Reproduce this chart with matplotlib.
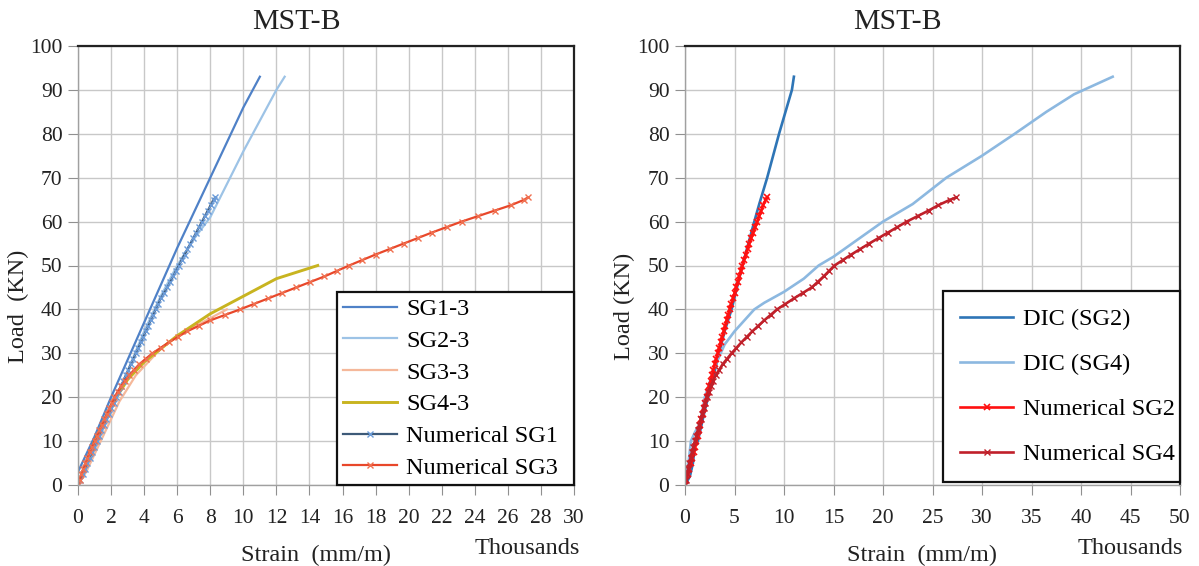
import matplotlib
matplotlib.use("Agg")
import matplotlib.pyplot as plt

plt.rcParams['font.family'] = ['Liberation Serif', 'DejaVu Serif']

# ---------------- Left panel data (strain in thousands, load in kN) ----------------
sg1_x = [0, 1.0, 2.0, 3.0, 4.0, 5.0, 6.0, 7.0, 8.0, 9.0, 10.0, 11.0]
sg1_y = [3, 11, 20, 28.5, 37, 45.5, 54, 62, 70, 78, 86, 93]

sg2_x = [0, 1.0, 2.0, 3.0, 4.0, 5.0, 6.0, 7.0, 8.0, 9.0, 10.0, 11.0, 12.0, 12.5]
sg2_y = [0, 8, 17, 26, 35, 43, 50, 56, 61, 68.5, 76, 83, 90, 93]

sg3_x = [0, 0.5, 1.0, 1.5, 2.0, 2.5, 3.0, 3.5, 4.0, 5.0, 6.0, 7.0, 8.0, 9.0]
sg3_y = [0, 3, 7, 11, 15, 19, 22, 25, 27, 31, 34, 36, 38, 40]

sg4_x = [0, 0.5, 1.0, 2.0, 3.0, 4.0, 5.0, 6.0, 8.0, 10.0, 12.0, 14.5]
sg4_y = [0, 5, 10, 18, 24, 28, 31, 34, 39, 43, 47, 50]

num_loads = [0, 1.25, 2.5, 3.75, 5, 6.25, 7.5, 8.75, 10, 11.25, 12.5, 13.75, 15, 16.25,
             17.5, 18.75, 20, 21.25, 22.5, 23.75, 25, 26.25, 27.5, 28.75, 30, 31.25,
             32.5, 33.75, 35, 36.25, 37.5, 38.75, 40, 41.25, 42.5, 43.75, 45, 46.25,
             47.5, 48.75, 50, 51.25, 52.5, 53.75, 55, 56.25, 57.5, 58.75, 60, 61.25,
             62.5, 63.75, 65, 65.5]

numsg1_x = [0, 0.14, 0.28, 0.42, 0.56, 0.7, 0.84, 0.98, 1.12, 1.26, 1.4, 1.55, 1.7, 1.85,
            2.0, 2.15, 2.3, 2.45, 2.6, 2.75, 2.9, 3.05, 3.2, 3.35, 3.5, 3.65,
            3.8, 3.95, 4.1, 4.25, 4.4, 4.55, 4.7, 4.85, 5.0, 5.2, 5.4, 5.57,
            5.75, 5.92, 6.1, 6.27, 6.45, 6.62, 6.8, 6.97, 7.15, 7.32, 7.5, 7.67,
            7.85, 8.02, 8.2, 8.3]

numsg3_x = [0, 0.1, 0.2, 0.32, 0.45, 0.57, 0.7, 0.85, 1.0, 1.15, 1.3, 1.45, 1.6, 1.75,
            1.9, 2.05, 2.2, 2.4, 2.6, 2.85, 3.1, 3.4, 3.7, 4.1, 4.5, 5.0,
            5.5, 6.05, 6.6, 7.3, 8.0, 8.9, 9.8, 10.65, 11.5, 12.35, 13.2, 14.05,
            14.9, 15.65, 16.4, 17.2, 18.0, 18.85, 19.7, 20.55, 21.4, 22.3, 23.2, 24.2,
            25.2, 26.2, 27.0, 27.2]

# ---------------- Right panel data ----------------
dic2_x = [0, 0.5, 0.8, 1.0, 1.3, 2.0, 3.0, 4.0, 4.7, 5.8, 7.0, 7.5, 8.3, 9.5, 10.8, 11.0]
dic2_y = [0, 2, 5, 9, 10, 17, 26, 35, 40, 50, 60, 64, 70, 80, 90, 93]

dic4_x = [0, 0.4, 0.6, 1.0, 1.5, 2.0, 3.0, 4.0, 5.0, 6.0, 7.0, 8.0, 10.0, 12.0, 13.5,
          15.0, 17.5, 20.0, 23.0, 26.4, 30.0, 33.3, 36.5, 39.3, 43.2]
dic4_y = [0, 6, 10, 12, 14, 20, 27, 32, 35, 37.5, 40, 41.5, 44, 47, 50,
          52, 56, 60, 64, 70, 75, 80, 85, 89, 93]

numsg2_x = [0, 0.15, 0.3, 0.45, 0.6, 0.75, 0.9, 1.02, 1.15, 1.27, 1.4, 1.52, 1.65, 1.77,
            1.9, 2.05, 2.2, 2.32, 2.45, 2.6, 2.75, 2.87, 3.0, 3.15, 3.3, 3.45,
            3.6, 3.75, 3.9, 4.05, 4.2, 4.35, 4.5, 4.67, 4.85, 5.0, 5.15, 5.32,
            5.5, 5.65, 5.8, 5.97, 6.15, 6.32, 6.5, 6.7, 6.9, 7.1, 7.3, 7.5,
            7.7, 7.9, 8.15, 8.3]

numsg4_x = [0, 0.1, 0.2, 0.32, 0.45, 0.57, 0.7, 0.85, 1.0, 1.15, 1.3, 1.45, 1.6, 1.75,
            1.9, 2.05, 2.2, 2.4, 2.6, 2.85, 3.1, 3.45, 3.8, 4.25, 4.7, 5.2,
            5.7, 6.25, 6.8, 7.4, 8.0, 8.65, 9.3, 10.15, 11.0, 11.9, 12.8, 13.4,
            14.0, 14.55, 15.1, 15.95, 16.8, 17.7, 18.6, 19.55, 20.5, 21.45, 22.4, 23.5,
            24.6, 25.6, 26.8, 27.4]

left_xticks = list(range(0, 31, 2))
right_xticks = list(range(0, 51, 5))
yticks = list(range(0, 101, 10))

W, H = 1199, 566
fig = plt.figure(figsize=(W / 100, H / 100), dpi=100)

def make_axes(x0, x1, y0, y1):
    return fig.add_axes([x0 / W, 1 - y1 / H, (x1 - x0) / W, (y1 - y0) / H])

axL = make_axes(78, 574, 46, 485)
axR = make_axes(685, 1180, 46, 485)

def style(ax, xmax, xticks):
    ax.set_xlim(0, xmax)
    ax.set_ylim(0, 100)
    ax.set_xticks(xticks)
    ax.set_yticks(yticks)
    ax.grid(True, color='#c8c8c8', lw=1.0)
    ax.set_axisbelow(True)
    for s in ['left', 'bottom']:
        ax.spines[s].set_color('#a0a0a0')
        ax.spines[s].set_linewidth(1.0)
    for s in ['top', 'right']:
        ax.spines[s].set_color('#222222')
        ax.spines[s].set_linewidth(1.6)
    ax.tick_params(axis='both', direction='out', length=7.2, color='#909090',
                   labelsize=15.5, labelcolor='#222222')
    ax.tick_params(axis='x', pad=10)
    ax.tick_params(axis='y', pad=4)

style(axL, 30, left_xticks)
style(axR, 50, right_xticks)

lw = 1.6
axL.plot(sg1_x, sg1_y, color='#4f81c7', lw=lw, label='SG1-3')
axL.plot(sg2_x, sg2_y, color='#9dc3e6', lw=lw, label='SG2-3')
axL.plot(sg3_x, sg3_y, color='#f5b89a', lw=lw, label='SG3-3')
axL.plot(sg4_x, sg4_y, color='#c8b420', lw=lw + 0.5, label='SG4-3')
axL.plot(numsg1_x, num_loads, color='#3d5a78', lw=lw, marker='x', ms=4.5,
         mec='#6b9bd8', mew=1.0, label='Numerical SG1')
axL.plot(numsg3_x, num_loads, color='#e8472a', lw=lw, marker='x', ms=4.5,
         mec='#f07050', mew=1.0, label='Numerical SG3')

axR.plot(dic2_x, dic2_y, color='#2e75b6', lw=lw + 0.3, label='DIC (SG2)')
axR.plot(dic4_x, dic4_y, color='#8cb8e0', lw=lw + 0.3, label='DIC (SG4)')
axR.plot(numsg2_x, num_loads, color='#ff1010', lw=lw + 0.3, marker='x', ms=5,
         mew=1.2, label='Numerical SG2')
axR.plot(numsg4_x, num_loads, color='#c0202a', lw=lw + 0.3, marker='x', ms=4.5,
         mew=1.0, label='Numerical SG4')

def add_legend(ax, x0, x1, y0, y1, spacing, bpad):
    bb = (x0 / W, 1 - y1 / H, (x1 - x0) / W, (y1 - y0) / H)
    leg = ax.legend(loc='upper left', bbox_to_anchor=bb, bbox_transform=fig.transFigure,
                    mode='expand', frameon=True, fancybox=False, fontsize=17.5,
                    handlelength=2.2, labelspacing=spacing, borderpad=bpad,
                    handletextpad=0.4, borderaxespad=0)
    leg.get_frame().set_edgecolor('#111111')
    leg.get_frame().set_linewidth(1.6)
    leg.get_frame().set_alpha(1)
    return leg

add_legend(axL, 337, 574, 292, 485, 0.4, 0.25)
add_legend(axR, 943, 1180, 291, 486, 0.95, 0.7)

def ftext(x, y, s, **kw):
    fig.text(x / W, 1 - y / H, s, **kw)

ftext(296, 22, 'MST-B', ha='center', va='center', fontsize=21.5, color='#222222')
ftext(897, 22, 'MST-B', ha='center', va='center', fontsize=21.5, color='#222222')
ftext(316, 555, 'Strain  (mm/m)', ha='center', va='center', fontsize=17.5, color='#222222')
ftext(922, 555, 'Strain  (mm/m)', ha='center', va='center', fontsize=17.5, color='#222222')
ftext(527, 548, 'Thousands', ha='center', va='center', fontsize=17.5, color='#222222')
ftext(1130, 548, 'Thousands', ha='center', va='center', fontsize=17.5, color='#222222')
ftext(18, 306, 'Load  (KN)', ha='center', va='center', rotation=90, fontsize=17.5, color='#222222')
ftext(624, 306, 'Load (KN)', ha='center', va='center', rotation=90, fontsize=17.5, color='#222222')

fig.savefig('out.png', dpi=100)
